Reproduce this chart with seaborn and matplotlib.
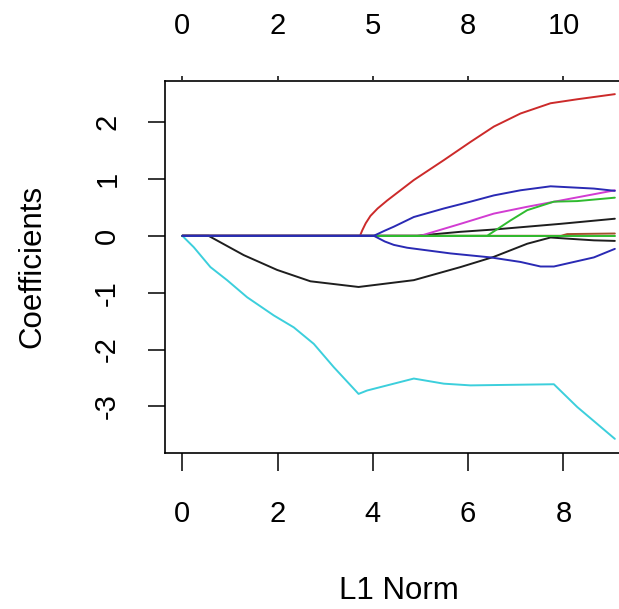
import matplotlib
matplotlib.use("Agg")
import matplotlib.pyplot as plt
import pandas as pd
import seaborn as sns

# Lasso coefficient paths: knots of (L1 norm, coefficient) for each variable
black1_l1 = [0, 0.55, 1.29, 1.99, 2.69, 3.70, 4.86, 5.84, 6.54, 7.24, 7.73, 8.08, 8.64, 9.08]
black1_coef = [0, 0, -0.34, -0.60, -0.80, -0.90, -0.78, -0.55, -0.37, -0.14, -0.03, -0.05, -0.08, -0.09]

black2_l1 = [0, 4.93, 5.84, 6.54, 7.24, 7.94, 9.08]
black2_coef = [0, 0, 0.07, 0.11, 0.16, 0.21, 0.30]

brown_l1 = [0, 7.95, 8.08, 9.08]
brown_coef = [0, 0, 0.03, 0.04]

red_l1 = [0, 3.73, 3.78, 3.85, 3.95, 4.10, 4.30, 4.86, 5.49, 6.05, 6.54, 7.10, 7.73, 8.29, 9.08]
red_coef = [0, 0, 0.10, 0.22, 0.35, 0.48, 0.62, 0.98, 1.33, 1.65, 1.92, 2.15, 2.33, 2.40, 2.49]

magenta_l1 = [0, 5.00, 5.84, 6.54, 7.24, 7.94, 9.08]
magenta_coef = [0, 0, 0.21, 0.39, 0.51, 0.62, 0.80]

cyan_l1 = [0, 0.24, 0.59, 0.94, 1.36, 1.92, 2.34, 2.76, 3.18, 3.70, 3.88, 4.86, 5.49, 6.05, 7.80, 8.29, 9.08]
cyan_coef = [0, -0.20, -0.55, -0.78, -1.08, -1.40, -1.61, -1.90, -2.31, -2.78, -2.72, -2.51, -2.60, -2.63, -2.61, -3.01, -3.57]

green2_l1 = [0, 6.40, 6.89, 7.24, 7.80, 8.29, 9.08]
green2_coef = [0, 0, 0.27, 0.45, 0.60, 0.61, 0.67]

green1_l1 = [0, 9.08]
green1_coef = [0, 0]

blue_up_l1 = [0, 4.02, 4.25, 4.44, 4.86, 5.49, 6.05, 6.54, 7.10, 7.73, 8.64, 9.08]
blue_up_coef = [0, 0, 0.09, 0.16, 0.33, 0.48, 0.60, 0.71, 0.80, 0.87, 0.83, 0.79]

blue_low_l1 = [0, 4.02, 4.25, 4.44, 4.72, 5.63, 6.47, 7.10, 7.52, 7.80, 8.64, 9.08]
blue_low_coef = [0, 0, -0.10, -0.16, -0.21, -0.31, -0.38, -0.46, -0.54, -0.54, -0.38, -0.23]

# Axis ticks: L1 norm below, degrees of freedom above
l1_ticks = [0, 2, 4, 6, 8]
df_labels = ["0", "2", "5", "8", "10"]
coef_ticks = [-3, -2, -1, 0, 1, 2]

paths = [
    ("black1", black1_l1, black1_coef, "#1e1e1e"),
    ("black2", black2_l1, black2_coef, "#1e1e1e"),
    ("brown", brown_l1, brown_coef, "#a0522d"),
    ("red", red_l1, red_coef, "#cc2a2a"),
    ("magenta", magenta_l1, magenta_coef, "#d23cd2"),
    ("cyan", cyan_l1, cyan_coef, "#3ccfdc"),
    ("green2", green2_l1, green2_coef, "#2fbb2f"),
    ("green1", green1_l1, green1_coef, "#2fbb2f"),
    ("blue_up", blue_up_l1, blue_up_coef, "#2a2ab4"),
    ("blue_low", blue_low_l1, blue_low_coef, "#2a2ab4"),
]

frames = []
for name, xs, ys, _ in paths:
    frames.append(pd.DataFrame({"path": name, "l1": xs, "coef": ys}))
data = pd.concat(frames, ignore_index=True)
palette = {name: col for name, _, _, col in paths}

sns.set_style("white")
plt.rcParams["font.family"] = ["Liberation Sans", "DejaVu Sans"]

W, H = 619, 609
fig = plt.figure(figsize=(W / 100, H / 100), dpi=100)
left, right, top, bottom = 165, 632, 80.5, 452.5
ax = fig.add_axes([left / W, 1 - bottom / H, (right - left) / W, (bottom - top) / H])

sns.lineplot(data=data, x="l1", y="coef", hue="path", hue_order=[p[0] for p in paths],
             palette=palette, estimator=None, sort=False, legend=False, lw=1.4, ax=ax)

ax.set_xlim(-0.363, 9.44)
ax.set_ylim(-3.81, 2.73)
ax.set_xticks(l1_ticks)
ax.set_xticklabels([str(t) for t in l1_ticks])
ax.set_yticks(coef_ticks)
ax.set_yticklabels([str(t) for t in coef_ticks], rotation=90, va="center")

for sp in ax.spines.values():
    sp.set_visible(True)
    sp.set_color("black")
    sp.set_linewidth(1.2)

ax.tick_params(axis="x", direction="out", length=13, width=1.1, pad=21,
               labelsize=21, colors="black", bottom=True)
ax.tick_params(axis="y", direction="out", length=12.5, width=1.1, pad=19,
               labelsize=21, colors="black", left=True)

top_ax = ax.secondary_xaxis("top")
top_ax.set_xticks(l1_ticks)
top_ax.set_xticklabels(df_labels)
top_ax.tick_params(direction="out", length=3, width=1.1, pad=26,
                   labelsize=21, colors="black")
top_ax.spines["top"].set_visible(False)

ax.set_xlabel("L1 Norm", fontsize=22.5, labelpad=35, color="black")
ax.set_ylabel("Coefficients", fontsize=22.5, labelpad=33, color="black")

fig.savefig("out.png", dpi=100, facecolor="white")
